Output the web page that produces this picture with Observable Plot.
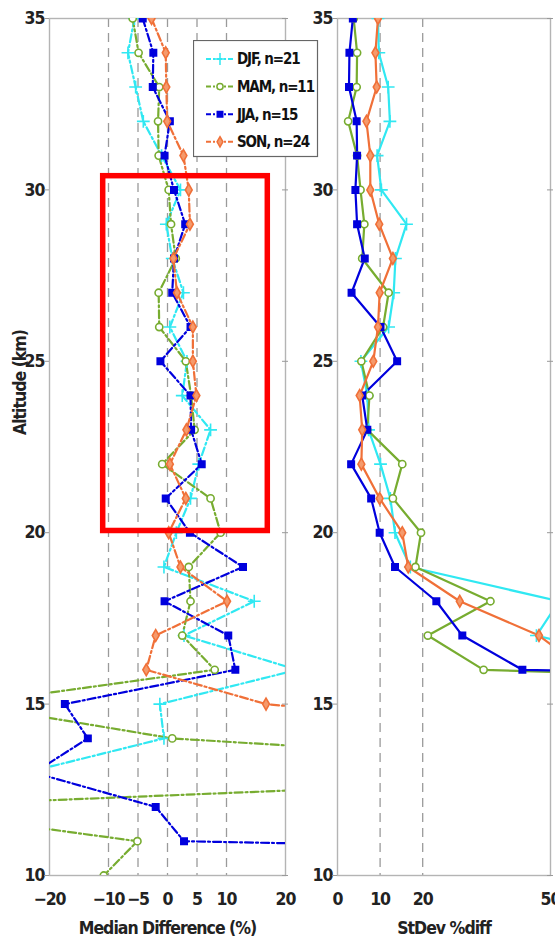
<!DOCTYPE html>
<html><head><meta charset="utf-8">
<script src="https://cdn.jsdelivr.net/npm/d3@7"></script>
<script src="https://cdn.jsdelivr.net/npm/@observablehq/plot@0.6"></script>
<style>
html,body{margin:0;padding:0;background:#fff;}
#fig{position:relative;width:555px;height:947px;overflow:hidden;font-family:"Liberation Sans Narrow","Arial Narrow","DejaVu Sans Condensed",sans-serif;}
#fig svg text{font-weight:bold;}
.panel{position:absolute;top:0;}
#legend{position:absolute;left:193px;top:40px;z-index:5;}
</style></head><body><div id="fig"></div>
<script>
// ---------- data ----------
const altitude = [35,34,33,32,31,30,29,28,27,26,25,24,23,22,21,20,19,18,17,16,15,14,13,12,11,10];
const seasonNames = ["DJF","MAM","JJA","SON"];
const sampleCounts = [21,11,15,24];

// Median difference (%) per altitude (null = no point)
const medianDJF = [-5.6,-6.7,-5.4,-4.1,-1.0,2.2,-0.2,0.8,2.7,0.4,3.3,2.5,7.3,5.3,3.9,1.5,-0.6,14.7,2.8,22,-1.3,-0.6,-24,null,null,null];
const medianMAM = [-5.9,-4.9,-1.4,-1.6,-1.5,0.2,0.6,1.4,-1.5,-1.4,3.1,4.0,4.6,-0.9,7.3,9.0,3.6,3.9,2.5,8.0,-34,0.8,95,-48,-5.1,-10.8];
const medianJJA = [-4.2,-2.4,-2.5,0.4,-0.5,1.1,3.0,1.1,0.8,3.9,-1.2,3.9,4.0,5.8,-0.3,3.8,12.8,-0.5,10.3,11.5,-17.4,-13.5,-22.6,-2.0,2.8,300];
const medianSON = [-2.7,-0.3,-0.2,-0.05,2.7,3.6,3.8,1.0,1.6,4.3,4.3,4.9,3.2,0.4,3.1,0.2,2.2,10.1,-2.0,-3.6,16.7,80,null,null,null,null];

// Standard deviation of % difference per altitude
const stdevDJF = [9.5,9.7,11.9,12.3,9.3,10.3,16.2,13.6,13.2,12.0,5.5,7.0,7.3,10.1,12.4,13.5,17.1,52,46.7,80,null,null,null,null,null,null];
const stdevMAM = [3.8,4.6,4.5,2.5,4.6,5.4,6.3,5.8,12.0,10.7,5.6,7.5,7.0,15.2,13.0,19.6,18.3,35.9,21.2,34.3,300,null,null,null,null,null];
const stdevJJA = [3.6,2.8,2.7,4.5,4.6,4.2,4.6,6.4,3.3,10.1,14.0,5.8,7.0,3.2,7.9,9.9,13.5,23.2,29.3,43.4,400,null,null,null,null,null];
const stdevSON = [9.5,8.9,9.2,6.8,7.7,7.7,9.8,13.0,9.9,9.5,8.4,5.2,5.8,5.6,9.9,15.2,16.6,28.7,47.3,58,null,null,null,null,null,null];

const yTicks = [10,15,20,25,30,35];
const xTicksLeft = [-20,-10,-5,0,5,10,20];
const xTicksRight = [0,10,20,50];
const gridLeft = [-10,-5,0,5,10];
const gridRight = [10,20];
const xLabelLeft = "Median Difference (%)";
const xLabelRight = "StDev %diff";
const yLabel = "Altitude (km)";
const highlight = [{x1:-10.9, x2:17.0, y1:20.05, y2:30.4}];

// ---------- styles ----------
const colors = ["#30e8f2","#77ac30","#0000dd","#f07038"];
const fills = ["none","#ffffff","#0000dd","#f59a6c"];
const symbols = ["plus","circle","square","diamond"];
const d3symbols = [d3.symbolPlus, d3.symbolCircle, d3.symbolSquare, d3.symbolDiamond];
const FONT = '"Liberation Sans Narrow","Arial Narrow","DejaVu Sans Condensed",sans-serif';

function tidy(series) {
  const rows = [];
  series.forEach((vals, i) => vals.forEach((v, j) => {
    if (v != null) rows.push({season: seasonNames[i], altitude: altitude[j], value: v});
  }));
  return rows;
}
const medRows = tidy([medianDJF, medianMAM, medianJJA, medianSON]);
const sdRows = tidy([stdevDJF, stdevMAM, stdevJJA, stdevSON]);

function panel({rows, width, marginLeft, xDomain, xTicks, grid, xLabel, dash, withYLabel, withHighlight}) {
  const inner = width - marginLeft - 5;
  const marks = [
    Plot.ruleX(grid, {x: d => d, stroke: "#9a9a9a", strokeWidth: 1.3, strokeDasharray: "9,6"}),
    Plot.frame({stroke: "#b4b4b4", strokeWidth: 1.4}),
    Plot.tickY(yTicks, {y: d => d, stroke: "#999", insetRight: inner - 5, dx: -5}),
    Plot.tickY(yTicks, {y: d => d, stroke: "#999", insetLeft: inner - 6, dx: 3}),
    Plot.line(rows, {x: "value", y: "altitude", z: "season", stroke: "season", strokeWidth: 2.2,
      strokeDasharray: dash, clip: true}),
    ...seasonNames.map((s, i) => Plot.dot(rows.filter(d => d.season === s), {
      x: "value", y: "altitude", symbol: () => symbols[i], stroke: colors[i], fill: fills[i],
      strokeWidth: 1.6, r: i === 0 ? 4.2 : 3.6, clip: true})),
    Plot.text([xLabel], {text: d => d, frameAnchor: "bottom", dy: 58, fontSize: 17.5, fill: "#222"})
  ];
  if (withYLabel) marks.push(Plot.text([yLabel], {text: d => d, frameAnchor: "left", dx: -29, dy: -12,
    rotate: -90, fontSize: 17.5, fill: "#222"}));
  if (withHighlight) marks.push(Plot.rect(highlight, {x1: "x1", x2: "x2", y1: "y1", y2: "y2",
    stroke: "#ff0000", strokeWidth: 5.5, fill: "none"}));
  return Plot.plot({
    width, height: 947, marginLeft, marginRight: 5, marginTop: 18, marginBottom: 72,
    style: {fontFamily: FONT, fontSize: "17.5px", letterSpacing: "-1px", color: "#222", background: "transparent", overflow: "visible"},
    x: {domain: xDomain, ticks: xTicks, tickSize: 0, tickPadding: 17, label: null},
    y: {domain: [10, 35], ticks: yTicks, tickSize: 0, tickPadding: 5, label: null},
    color: {domain: seasonNames, range: colors},
    symbol: {domain: seasonNames, range: symbols},
    marks
  });
}

const fig = document.getElementById("fig");
const left = panel({rows: medRows, width: 290, marginLeft: 49, xDomain: [-20, 20], xTicks: xTicksLeft,
  grid: gridLeft, xLabel: xLabelLeft, dash: "8,3,2,3", withYLabel: true, withHighlight: true});
left.classList.add("panel"); left.style.left = "0px";
const right = panel({rows: sdRows, width: 265, marginLeft: 47, xDomain: [0, 50], xTicks: xTicksRight,
  grid: gridRight, xLabel: xLabelRight, dash: null, withYLabel: false, withHighlight: false});
right.classList.add("panel"); right.style.left = "290px";
fig.appendChild(left);
fig.appendChild(right);

// ---------- legend ----------
const lg = d3.create("svg").attr("id", "legend").attr("width", 126).attr("height", 118);
lg.append("rect").attr("x", 0.5).attr("y", 0.5).attr("width", 124).attr("height", 116)
  .attr("fill", "#fff").attr("stroke", "#666").attr("stroke-width", 1.2);
seasonNames.forEach((s, i) => {
  const cy = 19 + i * 27.6;
  lg.append("line").attr("x1", 13).attr("x2", 41).attr("y1", cy).attr("y2", cy)
    .attr("stroke", colors[i]).attr("stroke-width", 2).attr("stroke-dasharray", "5,2,2,2");
  lg.append("path").attr("transform", `translate(27,${cy})`)
    .attr("d", d3.symbol(d3symbols[i], i === 0 ? 50 : 30)())
    .attr("stroke", colors[i]).attr("stroke-width", 1.5).attr("fill", fills[i]);
  lg.append("text").attr("x", 44).attr("y", cy).attr("dy", "0.36em")
    .attr("font-family", FONT).attr("font-size", 15).attr("font-weight", "bold")
    .attr("letter-spacing", "-1.1px").attr("fill", "#111")
    .text(`${s}, n=${sampleCounts[i]}`);
});
fig.appendChild(lg.node());
</script></body></html>
